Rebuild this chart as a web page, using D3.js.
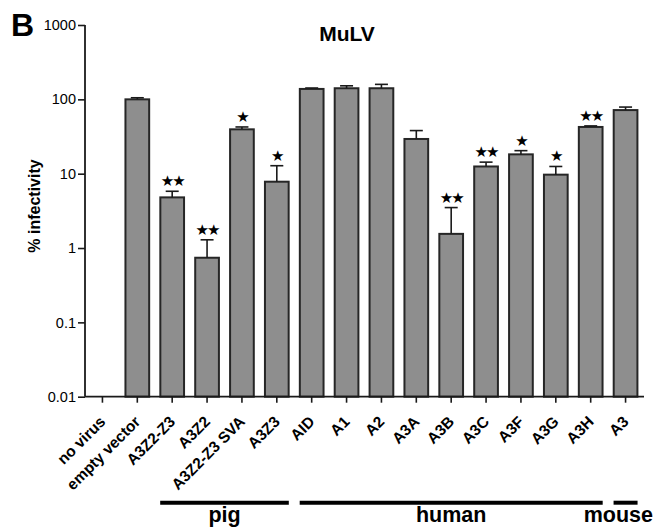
<!DOCTYPE html>
<html>
<head>
<meta charset="utf-8">
<script src="https://cdn.jsdelivr.net/npm/d3@7"></script>
<style>
  html, body { margin: 0; padding: 0; background: #fff; }
  svg { display: block; font-family: "Liberation Sans", Arial, Helvetica, sans-serif; }
</style>
</head>
<body>
<svg id="chart" width="667" height="530"></svg>
<script>
// ---- data ----
const categories = ["no virus", "empty vector", "A3Z2-Z3", "A3Z2", "A3Z2-Z3 SVA", "A3Z3",
  "AID", "A1", "A2", "A3A", "A3B", "A3C", "A3F", "A3G", "A3H", "A3"];
const means    = [null, 100, 4.8, 0.74, 39.5, 7.8, 138, 141, 141, 29.3, 1.55, 12.5, 18.2, 9.7, 42.5, 71.7];
const errUpper = [null, 105, 5.8, 1.29, 42.5, 12.8, 142, 152, 159, 38, 3.5, 14.3, 20.4, 12.5, 43.9, 78.7];
const stars    = ["", "", "**", "**", "*", "*", "", "", "", "", "**", "**", "*", "*", "**", ""];
const groupNames = ["pig", "human", "mouse"];
const groupFirst = [2, 6, 15];
const groupLast  = [5, 14, 15];
const yTicks = [0.01, 0.1, 1, 10, 100, 1000];
const yTickLabels = ["0.01", "0.1", "1", "10", "100", "1000"];
const title = "MuLV";
const yTitle = "% infectivity";
const panel = "B";

// ---- layout ----
const W = 667, H = 530;
const mLeft = 85, mRight = 643, mTop = 25, mBottom = 396.7;
const svg = d3.select("#chart");
const ink = "#1a1a1a";

const x = d3.scaleBand().domain(categories).range([mLeft, mRight]).paddingInner(0.32).paddingOuter(0.16);
const y = d3.scaleLog().domain([0.01, 1000]).range([mBottom, mTop]);
const xc = c => x(c) + x.bandwidth() / 2;

// bars
const data = categories.map((c, i) => ({ c, m: means[i], e: errUpper[i], s: stars[i] })).filter(d => d.m != null);

svg.append("g").selectAll("rect").data(data).join("rect")
  .attr("x", d => x(d.c))
  .attr("width", x.bandwidth())
  .attr("y", d => y(d.m))
  .attr("height", d => y(0.01) - y(d.m))
  .attr("fill", "#8e8e8e")
  .attr("stroke", "#262626")
  .attr("stroke-width", 2);

// error bars
const eb = svg.append("g").attr("stroke", ink).attr("stroke-width", 1.6);
eb.selectAll("line.v").data(data).join("line").attr("class", "v")
  .attr("x1", d => xc(d.c)).attr("x2", d => xc(d.c))
  .attr("y1", d => y(d.m)).attr("y2", d => y(d.e));
eb.selectAll("line.h").data(data).join("line").attr("class", "h")
  .attr("x1", d => xc(d.c) - 6.5).attr("x2", d => xc(d.c) + 6.5)
  .attr("y1", d => y(d.e)).attr("y2", d => y(d.e));

// stars
svg.append("g").selectAll("text").data(data.filter(d => d.s)).join("text")
  .attr("x", d => xc(d.c))
  .attr("y", d => y(d.e) - 5)
  .attr("text-anchor", "middle")
  .attr("font-family", "DejaVu Sans")
  .attr("font-size", 15)
  .attr("letter-spacing", -2)
  .attr("fill", "#000")
  .text(d => d.s.replace(/\*/g, "\u2605"));

// y axis
const yAxis = svg.append("g").attr("transform", `translate(${mLeft},0)`)
  .call(d3.axisLeft(y).tickValues(yTicks).tickFormat((d, i) => yTickLabels[i]).tickSize(7).tickPadding(2));
yAxis.select(".domain").attr("stroke", ink).attr("stroke-width", 1.8).attr("d", `M0,${mTop}V${mBottom}`);
yAxis.selectAll(".tick line").attr("stroke", ink).attr("stroke-width", 1.6);
yAxis.selectAll(".tick text").attr("font-size", 14.5).attr("fill", "#000").attr("font-family", "Liberation Sans, Arial, sans-serif");

// x axis
const xAxis = svg.append("g").attr("transform", `translate(0,${mBottom})`)
  .call(d3.axisBottom(x).tickSize(6).tickFormat(""));
xAxis.select(".domain").attr("stroke", ink).attr("stroke-width", 1.8).attr("d", `M${mLeft},0H${mRight + 1}`);
xAxis.selectAll(".tick line").attr("stroke", ink).attr("stroke-width", 1.6);

// x labels rotated
svg.append("g").selectAll("text").data(categories).join("text")
  .attr("transform", c => `translate(${xc(c) + 4},${mBottom + 26}) rotate(-45)`)
  .attr("text-anchor", "end")
  .attr("font-size", 15.5)
  .attr("font-weight", "bold")
  .attr("fill", "#000")
  .text(c => c);

// group lines and labels
const g = svg.append("g");
groupNames.forEach((name, i) => {
  const x1 = xc(categories[groupFirst[i]]) - 12;
  const x2 = xc(categories[groupLast[i]]) + 12;
  g.append("line").attr("x1", x1).attr("x2", x2).attr("y1", 502.7).attr("y2", 502.7)
    .attr("stroke", "#000").attr("stroke-width", 4);
  const last = i === groupNames.length - 1;
  g.append("text")
    .attr("x", last ? W - 14 : (x1 + x2) / 2)
    .attr("y", 522)
    .attr("text-anchor", last ? "end" : "middle")
    .attr("font-size", 21.5)
    .attr("font-weight", "bold")
    .attr("fill", "#000")
    .text(name);
});

// titles
svg.append("text").attr("x", 347).attr("y", 40.7).attr("text-anchor", "middle")
  .attr("font-size", 21).attr("font-weight", "bold").attr("fill", "#000").text(title);
svg.append("text").attr("x", 11).attr("y", 35.5)
  .attr("font-size", 32).attr("font-weight", "bold").attr("fill", "#000").text(panel);
svg.append("text").attr("transform", `translate(40,206) rotate(-90)`).attr("text-anchor", "middle")
  .attr("font-size", 16).attr("font-weight", "bold").attr("fill", "#000").text(yTitle);
</script>
</body>
</html>
